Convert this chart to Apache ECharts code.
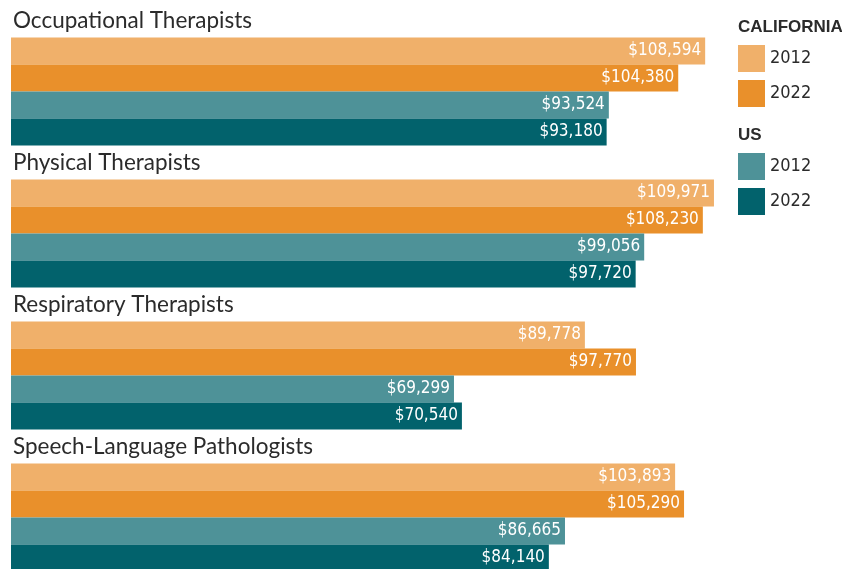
<!DOCTYPE html>
<html>
<head>
<meta charset="utf-8">
<script src="https://cdn.jsdelivr.net/npm/echarts@6/dist/echarts.min.js"></script>
<style>
  html, body { margin: 0; padding: 0; background: #fff; }
  #chart { width: 842px; height: 569px; }
</style>
</head>
<body>
<div id="chart"></div>
<script>
// occupations (one group of bars each)
const occupations = ['Occupational Therapists', 'Physical Therapists', 'Respiratory Therapists', 'Speech-Language Pathologists']
const seriesNames = ['California 2012', 'California 2022', 'US 2012', 'US 2022']
const ca2012 = [108594, 109971, 89778, 103893]
const ca2022 = [104380, 108230, 97770, 105290]
const us2012 = [93524, 99056, 69299, 86665]
const us2022 = [93180, 97720, 70540, 84140]
const colors = ['#f0b06a', '#e9902b', '#4e9298', '#02626c']

const narrow = "'DejaVu Sans Condensed', 'Liberation Sans', sans-serif"

const chart = echarts.init(document.getElementById('chart'))

function money(v) {
  return '$' + v.toString().replace(/\B(?=(\d{3})+(?!\d))/g, ',')
}

const allValues = [ca2012, ca2022, us2012, us2022]
const series = allValues.map((vals, i) => ({
  name: seriesNames[i],
  type: 'bar',
  data: vals,
  barGap: 0,
  barCategoryGap: '24%',
  itemStyle: { color: colors[i] },
  label: {
    show: true,
    position: 'insideRight',
    distance: 4,
    color: '#fff',
    fontFamily: narrow,
    fontSize: 17,
    formatter: (p) => money(p.value)
  }
}))

const legendText = {
  fontFamily: narrow,
  fontSize: 18,
  color: '#2b2b2b'
}

const option = {
  animation: false,
  title: [
    { text: 'CALIFORNIA', left: 738, top: 19, padding: 0,
      textStyle: { fontFamily: 'Liberation Sans', fontWeight: 'bold', fontSize: 17, color: '#2b2b2b' } },
    { text: 'US', left: 738, top: 127, padding: 0,
      textStyle: { fontFamily: 'Liberation Sans', fontWeight: 'bold', fontSize: 17, color: '#2b2b2b' } }
  ],
  legend: [
    {
      data: seriesNames.slice(0, 2),
      orient: 'vertical',
      left: 738, top: 45, padding: 0,
      itemWidth: 27, itemHeight: 27, itemGap: 8,
      icon: 'rect',
      selectedMode: false,
      textStyle: legendText,
      formatter: (n) => n.split(' ')[1]
    },
    {
      data: seriesNames.slice(2, 4),
      orient: 'vertical',
      left: 738, top: 153, padding: 0,
      itemWidth: 27, itemHeight: 27, itemGap: 8,
      icon: 'rect',
      selectedMode: false,
      textStyle: legendText,
      formatter: (n) => n.split(' ')[1]
    }
  ],
  grid: {
    left: 11, width: 831, top: 20.5, height: 568,
    containLabel: false,
    outerBoundsMode: 'none'
  },
  xAxis: {
    type: 'value',
    min: 0,
    max: 130000,
    show: false
  },
  yAxis: {
    type: 'category',
    data: occupations,
    inverse: true,
    axisLine: { show: false },
    axisTick: { show: false },
    axisLabel: {
      inside: true,
      margin: 2,
      align: 'left',
      verticalAlign: 'bottom',
      lineHeight: 26,
      padding: [0, 0, 58, 0],
      fontFamily: 'Lato',
      fontSize: 22.5,
      color: '#2b2b2b'
    }
  },
  series: series
}

chart.setOption(option)
</script>
</body>
</html>
